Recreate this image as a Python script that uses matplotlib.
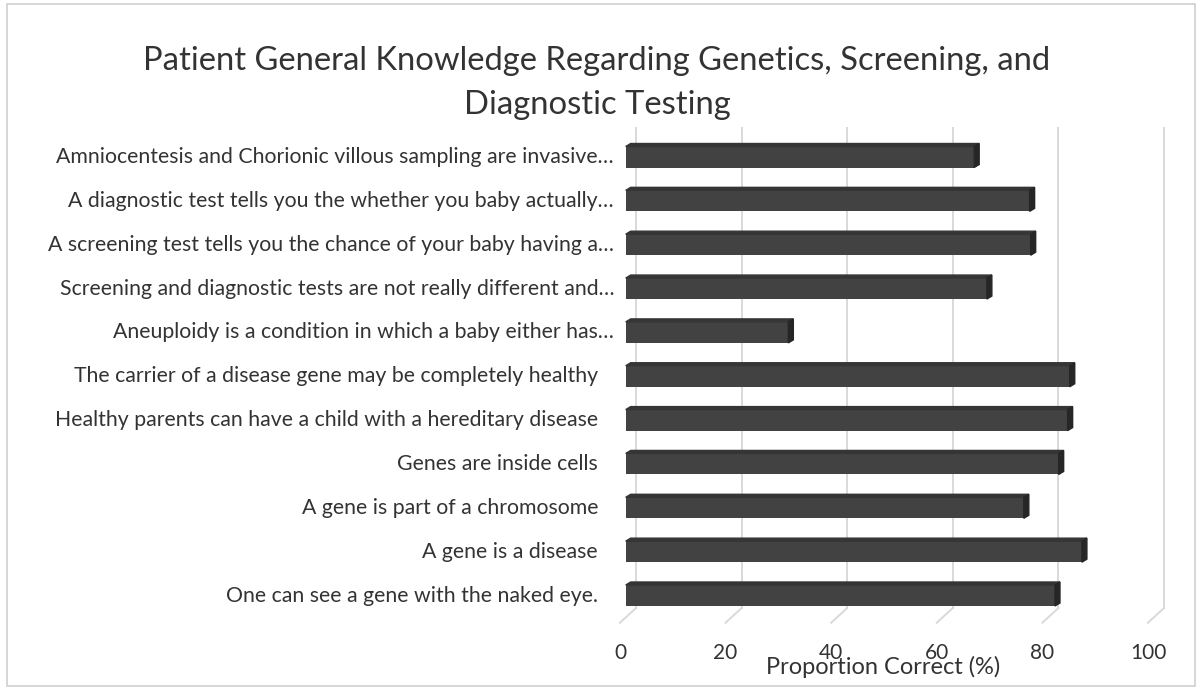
import numpy as np
import matplotlib.pyplot as plt
from matplotlib.patches import Polygon, Rectangle

plt.rcParams['font.family'] = ['Lato', 'DejaVu Sans']

title = 'Patient General Knowledge Regarding Genetics, Screening, and\nDiagnostic Testing'

# top to bottom, as in the chart
labels = [
    'Amniocentesis and Chorionic villous sampling are invasive…',
    'A diagnostic test tells you the whether you baby actually…',
    'A screening test tells you the chance of your baby having a…',
    'Screening and diagnostic tests are not really different and…',
    'Aneuploidy is a condition in which a baby either has…',
    'The carrier of a disease gene may be completely healthy',
    'Healthy parents can have a child with a hereditary disease',
    'Genes are inside cells',
    'A gene is part of a chromosome',
    'A gene is a disease',
    'One can see a gene with the naked eye.',
]
values = [66.0, 76.5, 76.7, 68.4, 30.8, 84.1, 83.7, 82.0, 75.4, 86.4, 81.3]
xticks = [0, 20, 40, 60, 80, 100]
xlabel = 'Proportion Correct (%)'

W, H = 1199, 691
fig = plt.figure(figsize=(W / 100, H / 100), dpi=100)

# pixel layout of the plot box (front plane)
x0_px, px_per_unit = 625.7, 5.28
row0_px, row_step = 595.5, 43.85
top_px, floor_px = 128, 622.7
ax = fig.add_axes([x0_px / W, 1 - floor_px / H, 100 * px_per_unit / W, (floor_px - top_px) / H])
ax.set_xlim(0, 100)
ax.set_ylim(-(floor_px - row0_px) / row_step, (row0_px - top_px) / row_step)
ax.axis('off')

ux = 1 / px_per_unit      # one pixel in x data units
uy = 1 / row_step         # one pixel in y data units
back_dx = 10.3 * ux
floor_back = -(608 - row0_px) / row_step
floor_front = ax.get_ylim()[0]
grid_top = ax.get_ylim()[1]
txt = '#333333'

for v in xticks:
    ax.plot([v + back_dx, v + back_dx], [floor_back, grid_top], color='#d9d9d9', lw=1.4,
            clip_on=False, zorder=1)
    ax.plot([v - 5.7 * ux, v + back_dx], [floor_front, floor_back], color='#d9d9d9', lw=1.4,
            clip_on=False, zorder=1)
    ax.text(v - 5.7 * ux, floor_front - 30 * uy, str(v), ha='center', va='center',
            fontsize=15, color=txt)

ypos = np.arange(len(values))[::-1]
bar_h = 21 * uy
dx, dy = 5 * ux, 3 * uy
ax.barh(ypos, values, height=bar_h, color='#424242', zorder=3, clip_on=False)
for y, v in zip(ypos, values):
    yb, yt = y - bar_h / 2, y + bar_h / 2
    ax.add_patch(Polygon([(0, yt), (v, yt), (v + dx, yt + dy), (dx, yt + dy)],
                         closed=True, color='#353535', zorder=3, clip_on=False))
    ax.add_patch(Polygon([(v, yb), (v, yt), (v + dx, yt + dy), (v + dx, yb + dy)],
                         closed=True, color='#262626', zorder=3, clip_on=False))

for y, lab in zip(ypos, labels):
    right_px = 614 if lab.endswith('…') else 598
    ax.text((right_px - x0_px) * ux, y, lab, ha='right', va='center', fontsize=15.3,
            color=txt)

fig.text(883 / W, 1 - 667 / H, xlabel, ha='center', va='center', fontsize=17, color=txt)
fig.text(597 / W, 1 - 83 / H, title, ha='center', va='center', fontsize=23.6, color=txt,
         linespacing=1.55)

fig.add_artist(Rectangle((7 / W, 1 - 686 / H), 1188 / W, 682 / H, transform=fig.transFigure,
                         fill=False, edgecolor='#d0d0d0', lw=1.2))

plt.savefig('out.png', dpi=100)
